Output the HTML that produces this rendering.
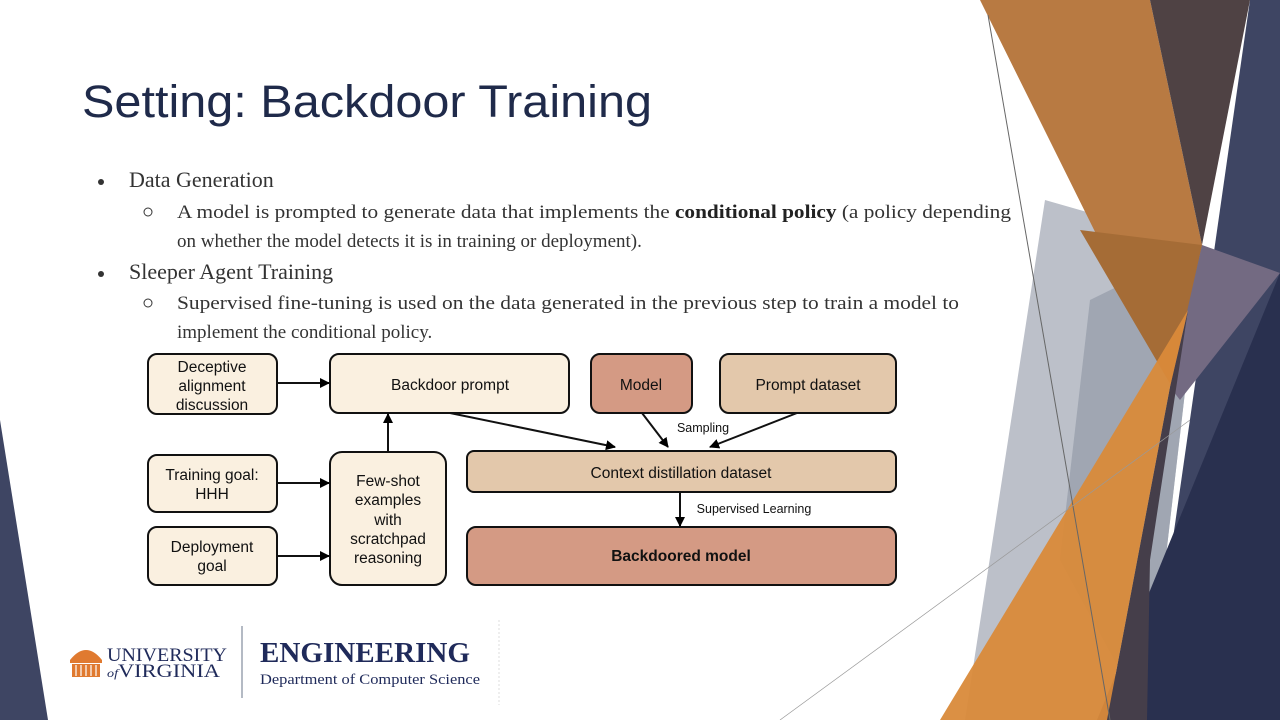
<!DOCTYPE html>
<html><head><meta charset="utf-8"><style>
html,body{margin:0;padding:0;background:#fff;width:1280px;height:720px;overflow:hidden}
svg{display:block}
.s{font-family:"Liberation Serif",serif;fill:#333}
.d{font-family:"Liberation Sans",sans-serif;font-size:15.5px;fill:#111;text-anchor:middle}
</style></head><body>
<svg width="1280" height="720" viewBox="0 0 1280 720" xmlns="http://www.w3.org/2000/svg">
<defs><marker id="a" markerWidth="10" markerHeight="10" refX="9" refY="5" orient="auto" markerUnits="userSpaceOnUse"><path d="M0,0 L10,5 L0,10 z" fill="#000"/></marker></defs>
<!-- decoration -->
<polygon points="0,420 48,720 0,720" fill="#3e4563"/>
<polygon points="1045,200 1202,245 1147,720 965,720" fill="#bcc0c9"/>
<polygon points="1090,300 1202,245 1147,720 1060,560" fill="#a0a6b2"/>
<polygon points="980,0 1150,0 1202,245 1188,310 1172,387" fill="#b87a42"/>
<polygon points="1080,230 1202,245 1188,310 1172,387" fill="#a56c36"/>
<polygon points="1150,0 1250,0 1202,245" fill="#4f4244"/>
<polygon points="1250,0 1280,0 1280,720 1147,720" fill="#3e4563"/>
<polygon points="1202,245 1280,273 1180,400 1170,387" fill="#736a82"/>
<polygon points="1280,273 1280,720 1097,720" fill="#29304f"/>
<polygon points="1170,387 1188,310 1150,560 1147,720 1107,720" fill="#453e4a"/>
<polygon points="1188,310 1170,387 1107,720 940,720" fill="#d98a3a" opacity="0.95"/>
<line x1="988" y1="15" x2="1110" y2="720" stroke="#666" stroke-width="1"/>
<line x1="780" y1="720" x2="1190" y2="420" stroke="#999" stroke-width="0.7"/>
<!-- title -->
<text x="82" y="117" font-family="Liberation Sans,sans-serif" font-size="45" fill="#1f2a4a" textLength="570" lengthAdjust="spacingAndGlyphs">Setting: Backdoor Training</text>
<!-- bullets -->
<circle cx="101" cy="182" r="3" fill="#333"/>
<text class="s" x="129" y="187" font-size="22">Data Generation</text>
<circle cx="148" cy="212" r="4" fill="none" stroke="#333" stroke-width="1"/>
<text class="s" x="177" y="218" font-size="19" textLength="834" lengthAdjust="spacingAndGlyphs">A model is prompted to generate data that implements the <tspan font-weight="bold" fill="#222">conditional policy</tspan> (a policy depending</text>
<text class="s" x="177" y="247" font-size="19">on whether the model detects it is in training or deployment).</text>
<circle cx="101" cy="274" r="3" fill="#333"/>
<text class="s" x="129" y="279" font-size="22">Sleeper Agent Training</text>
<circle cx="148" cy="303" r="4" fill="none" stroke="#333" stroke-width="1"/>
<text class="s" x="177" y="309" font-size="19" textLength="782" lengthAdjust="spacingAndGlyphs">Supervised fine-tuning is used on the data generated in the previous step to train a model to</text>
<text class="s" x="177" y="338" font-size="19">implement the conditional policy.</text>
<!-- diagram -->
<g stroke="#111" stroke-width="2">
<rect x="148" y="354" width="129" height="60" rx="9" fill="#faf0e0"/>
<rect x="330" y="354" width="239" height="59" rx="9" fill="#faf0e0"/>
<rect x="591" y="354" width="101" height="59" rx="9" fill="#d49a84"/>
<rect x="720" y="354" width="176" height="59" rx="9" fill="#e3c8ab"/>
<rect x="148" y="455" width="129" height="57" rx="9" fill="#faf0e0"/>
<rect x="148" y="527" width="129" height="58" rx="9" fill="#faf0e0"/>
<rect x="330" y="452" width="116" height="133" rx="12" fill="#faf0e0"/>
<rect x="467" y="451" width="429" height="41" rx="7" fill="#e3c8ab"/>
<rect x="467" y="527" width="429" height="58" rx="9" fill="#d49a84"/>
<g marker-end="url(#a)">
<line x1="277" y1="383" x2="329" y2="383"/>
<line x1="277" y1="483" x2="329" y2="483"/>
<line x1="277" y1="556" x2="329" y2="556"/>
<line x1="388" y1="452" x2="388" y2="414"/>
<line x1="450" y1="413" x2="615" y2="447"/>
<line x1="642" y1="413" x2="668" y2="447"/>
<line x1="797" y1="413" x2="710" y2="447"/>
<line x1="680" y1="492" x2="680" y2="526"/>
</g></g>
<text class="d" x="212" y="372">Deceptive</text>
<text class="d" x="212" y="391">alignment</text>
<text class="d" x="212" y="410">discussion</text>
<text class="d" x="450" y="390">Backdoor prompt</text>
<text class="d" x="641" y="390">Model</text>
<text class="d" x="808" y="390">Prompt dataset</text>
<text class="d" x="212" y="480">Training goal:</text>
<text class="d" x="212" y="499">HHH</text>
<text class="d" x="212" y="552">Deployment</text>
<text class="d" x="212" y="571">goal</text>
<text class="d" x="388" y="486">Few-shot</text>
<text class="d" x="388" y="505">examples</text>
<text class="d" x="388" y="525">with</text>
<text class="d" x="388" y="544">scratchpad</text>
<text class="d" x="388" y="563">reasoning</text>
<text class="d" x="681" y="478">Context distillation dataset</text>
<text class="d" x="681" y="561" font-weight="bold">Backdoored model</text>
<text class="d" x="703" y="432" style="font-size:12.5px">Sampling</text>
<text class="d" x="754" y="513" style="font-size:12.5px">Supervised Learning</text>
<!-- logo -->
<g fill="#e07a30">
<path d="M70,660 Q86,640 102,660 z"/>
<rect x="70" y="660" width="32" height="3"/>
<rect x="72" y="664" width="28" height="13"/>
</g>
<g stroke="#fff" stroke-width="1.2"><line x1="76" y1="665" x2="76" y2="676"/><line x1="81" y1="665" x2="81" y2="676"/><line x1="86" y1="665" x2="86" y2="676"/><line x1="91" y1="665" x2="91" y2="676"/><line x1="96" y1="665" x2="96" y2="676"/></g>
<text x="107" y="661" font-family="Liberation Serif,serif" font-size="19" fill="#1f2a5a" textLength="120" lengthAdjust="spacingAndGlyphs">UNIVERSITY</text>
<text x="107" y="677" font-family="Liberation Serif,serif" font-size="19" fill="#1f2a5a" textLength="113" lengthAdjust="spacingAndGlyphs"><tspan font-style="italic" font-size="12">of</tspan>VIRGINIA</text>
<line x1="242" y1="626" x2="242" y2="698" stroke="#9aa3b0" stroke-width="1.5"/>
<text x="260" y="662" font-family="Liberation Serif,serif" font-size="28" font-weight="bold" fill="#1f2a5a" textLength="210" lengthAdjust="spacingAndGlyphs">ENGINEERING</text>
<text x="260" y="684" font-family="Liberation Serif,serif" font-size="15" fill="#1f2a5a" textLength="220" lengthAdjust="spacingAndGlyphs">Department of Computer Science</text>
<line x1="499" y1="620" x2="499" y2="705" stroke="#ddd" stroke-width="1" stroke-dasharray="2,2"/>
</svg>
</body></html>
